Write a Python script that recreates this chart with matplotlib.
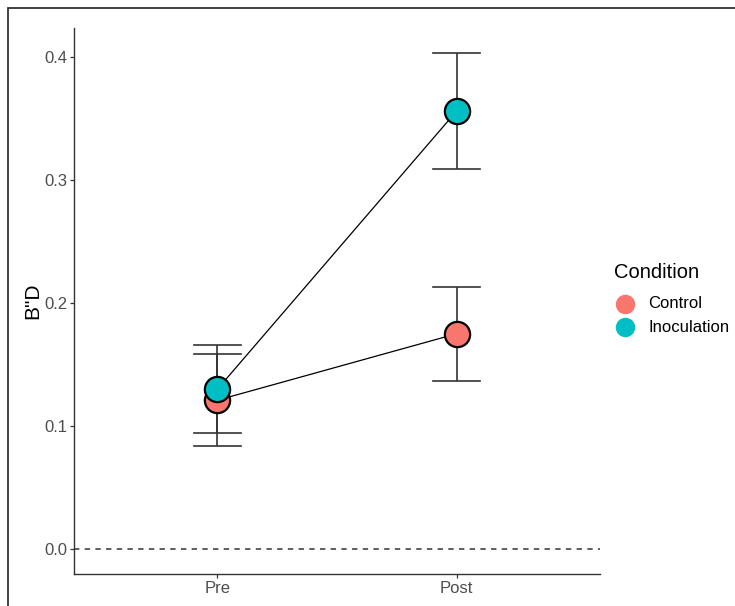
import matplotlib.pyplot as plt
from matplotlib.lines import Line2D
from matplotlib.patches import Rectangle

plt.rcParams['font.family'] = ['Liberation Sans', 'DejaVu Sans']

times = ['Pre', 'Post']
conditions = ['Control', 'Inoculation']
colors = {'Control': '#F8766D', 'Inoculation': '#00BFC4'}
means = {'Control': [0.121, 0.175], 'Inoculation': [0.130, 0.356]}
errs = {'Control': [0.0375, 0.038], 'Inoculation': [0.036, 0.047]}
yticks = [0.0, 0.1, 0.2, 0.3, 0.4]

W, H = 735, 606
fig = plt.figure(figsize=(W / 100, H / 100), dpi=100)
ax = fig.add_axes([0.1007, 0.0528, 0.7156, 0.901])

xpos = [1, 2]
ax.axhline(0, color='#333333', lw=1.1, ls=(0, (3.5, 3.5)), zorder=1)
for cond in conditions:
    ax.plot(xpos, means[cond], color='black', lw=0.9, zorder=2)
for cond in conditions:
    ax.errorbar(xpos, means[cond], yerr=errs[cond], fmt='none', ecolor='#333333',
                elinewidth=1.2, capsize=0, zorder=3)
    for x, m, e in zip(xpos, means[cond], errs[cond]):
        for yy in (m - e, m + e):
            ax.plot([x - 0.1, x + 0.1], [yy, yy], color='#333333', lw=1.2, zorder=3)
for cond in conditions:
    ax.scatter(xpos, means[cond], s=330, color=colors[cond], edgecolors='black',
               linewidths=1.6, zorder=4)

ax.set_xlim(0.4, 2.6)
ax.set_ylim(-0.0203, 0.4236)
ax.set_xticks(xpos)
ax.set_xticklabels(times)
ax.set_yticks(yticks)
ax.set_yticklabels([f'{v:.1f}' for v in yticks])
ax.tick_params(colors='#333333', labelcolor='#4D4D4D', labelsize=12, length=3, width=0.9, pad=2)
ax.spines['top'].set_visible(False)
ax.spines['right'].set_visible(False)
for s in ['left', 'bottom']:
    ax.spines[s].set_color('#333333')
    ax.spines[s].set_linewidth(1.0)
ax.set_ylabel('B"D', fontsize=15, labelpad=1)

# legend drawn by hand, in pixel positions
fig.text(614 / W, 1 - 272 / H, 'Condition', fontsize=14.5, ha='left', va='center')
for i, cond in enumerate(conditions):
    yy = 1 - (304 + 23 * i) / H
    fig.add_artist(Line2D([625 / W], [yy], transform=fig.transFigure, ls='none', marker='o',
                          markersize=13, markerfacecolor=colors[cond], markeredgecolor=colors[cond]))
    fig.text(648 / W, yy, cond, fontsize=12, ha='left', va='center')

fig.patches.append(Rectangle((8 / W, -0.1), 1.2, 1 - 8 / H + 0.1, transform=fig.transFigure,
                             fill=False, edgecolor='#333333', lw=1.3))

fig.savefig('out.png', dpi=100)
